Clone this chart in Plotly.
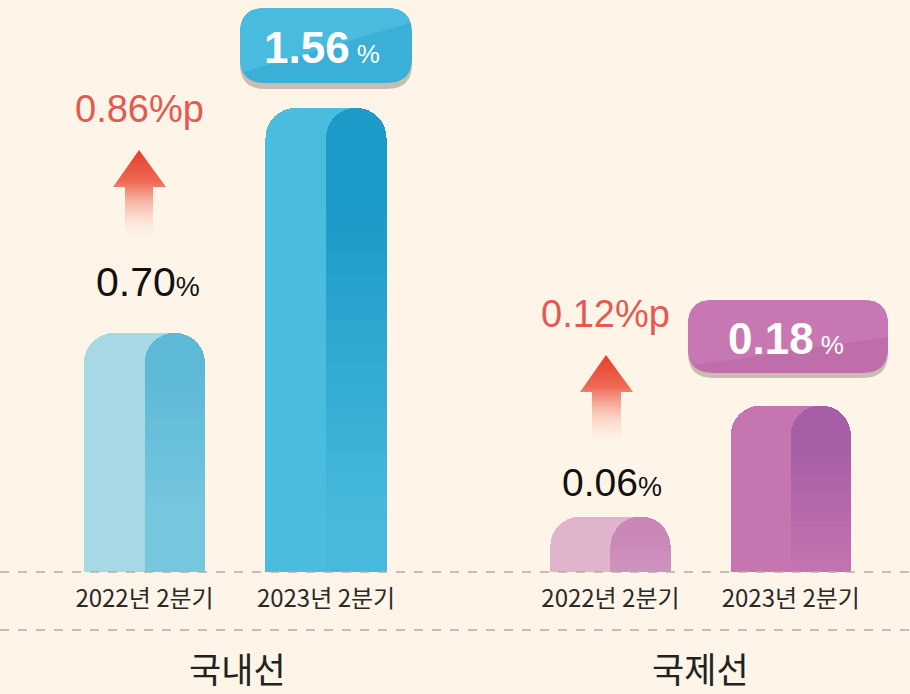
import plotly.graph_objects as go

# ---------------- data ----------------
categories = ["2022년 2분기", "2023년 2분기"]
domestic = [0.70, 1.56]          # 국내선 (%)
international = [0.06, 0.18]     # 국제선 (%)
change_labels = ["0.86%p", "0.12%p"]
group_names = ["국내선", "국제선"]

# ---------------- style ----------------
BG = "#FEF5E8"
W, H = 910, 694
DOM_PAD = 0.214        # visual pedestal under the domestic bars (infographic scale)
N_GRAD = 14            # gradient steps of the shaded half
GRAD_SPAN = 0.75       # share of the bar covered by the gradient

dom_colors = [
    dict(light="#A6D9E4", top="#5EB9D7", bot="#76C7DE"),
    dict(light="#4ABCDD", top="#1C9AC8", bot="#47B9DC"),
]
int_colors = [
    dict(light="#E0B4CC", top="#C987B8", bot="#CF92BE"),
    dict(light="#C575AF", top="#A65EA7", bot="#C474AE"),
]


def hex2rgb(h):
    h = h.lstrip("#")
    return tuple(int(h[i:i + 2], 16) for i in (0, 2, 4))


def mix(c1, c2, t):
    a, b = hex2rgb(c1), hex2rgb(c2)
    return "rgb(%d,%d,%d)" % tuple(round(a[i] + (b[i] - a[i]) * t) for i in range(3))


fig = go.Figure()
BAR_W, HALF_W = 0.667, 0.3335


def add_group(vals, pad, colors, xa_light, ya_light, xa_dark, ya_dark):
    light = [c["light"] for c in colors]
    if pad > 0:
        fig.add_trace(go.Bar(x=categories, y=[pad] * len(vals), width=[BAR_W] * 2, offset=[-BAR_W / 2] * 2,
                             marker=dict(color=light, line=dict(width=0)),
                             xaxis=xa_light, yaxis=ya_light, hoverinfo="skip", showlegend=False))
    fig.add_trace(go.Bar(x=categories, y=vals, width=[BAR_W] * 2, offset=[-BAR_W / 2] * 2,
                         marker=dict(color=light, cornerradius=30, line=dict(width=0)),
                         xaxis=xa_light, yaxis=ya_light, hoverinfo="skip", showlegend=False))
    pieces = []
    if pad > 0:
        pieces.append(([pad] * len(vals), [c["bot"] for c in colors]))
    for j in range(N_GRAD):
        t = (j + 0.5) / N_GRAD
        pieces.append(([v * GRAD_SPAN / N_GRAD for v in vals],
                       [mix(c["bot"], c["top"], t) for c in colors]))
    pieces.append(([v * (1 - GRAD_SPAN) for v in vals], [c["top"] for c in colors]))
    for ys, cols in pieces:
        fig.add_trace(go.Bar(x=categories, y=ys, width=[HALF_W] * 2, offset=[0.0] * 2,
                             marker=dict(color=cols, cornerradius=30, line=dict(width=0)),
                             xaxis=xa_dark, yaxis=ya_dark, hoverinfo="skip", showlegend=False))


add_group(domestic, DOM_PAD, dom_colors, "x", "y", "x4", "y4")
add_group(international, 0.0, int_colors, "x2", "y2", "x5", "y5")

# ---------------- decorative arrows (pixel overlay axes) ----------------
arrow_grad = dict(type="vertical",
                  colorscale=[[0, "rgba(254,238,228,0.15)"], [0.58, "#F07E6B"], [0.64, "#EE6A55"],
                              [1, "#E53F2A"]])
arrows = [
    dict(tip=(139, 150), hb=187, hx=(113, 166), sx=(125, 153), bot=238),
    dict(tip=(606, 355), hb=392, hx=(580, 633), sx=(592, 621), bot=443),
]
for a in arrows:
    tx, ty = a["tip"]
    xs = [tx, a["hx"][1], a["sx"][1], a["sx"][1], a["sx"][0], a["sx"][0], a["hx"][0], tx]
    ys = [ty, a["hb"], a["hb"], a["bot"], a["bot"], a["hb"], a["hb"], ty]
    fig.add_trace(go.Scatter(x=xs, y=ys, mode="lines", line=dict(width=0, color="rgba(0,0,0,0)"),
                             fill="toself", fillgradient=arrow_grad,
                             xaxis="x3", yaxis="y3", hoverinfo="skip", showlegend=False))


# ---------------- shapes ----------------
def rrect(x0, y0, x1, y1, r):
    return (f"M{x0 + r},{y0} L{x1 - r},{y0} Q{x1},{y0} {x1},{y0 + r} L{x1},{y1 - r} "
            f"Q{x1},{y1} {x1 - r},{y1} L{x0 + r},{y1} Q{x0},{y1} {x0},{y1 - r} "
            f"L{x0},{y0 + r} Q{x0},{y0} {x0 + r},{y0} Z")


shapes = []
shapes.append(dict(type="path", path=rrect(240, 14, 412, 89, 25), xref="x3", yref="y3",
                   fillcolor="#C9BDB2", line=dict(width=0), layer="below"))
shapes.append(dict(type="path", path=rrect(240, 8, 412, 83, 25), xref="x3", yref="y3",
                   fillcolor="#3AAFD7", line=dict(width=0), layer="below"))
shapes.append(dict(type="path",
                   path="M244,72 Q240,66 240,58 L240,33 Q240,8 265,8 L387,8 Q405,8 410,23 Z",
                   xref="x3", yref="y3", fillcolor="#48BBDE", line=dict(width=0), layer="below"))

shapes.append(dict(type="path", path=rrect(688, 305, 888, 378, 25), xref="x3", yref="y3",
                   fillcolor="#C9BDB2", line=dict(width=0), layer="below"))
shapes.append(dict(type="path", path=rrect(688, 300, 888, 373, 25), xref="x3", yref="y3",
                   fillcolor="#C06DAB", line=dict(width=0), layer="below"))
shapes.append(dict(type="path",
                   path="M695,365 Q688,358 688,348 L688,325 Q688,300 713,300 L863,300 Q888,300 888,325 L888,337 Z",
                   xref="x3", yref="y3", fillcolor="#C778B2", line=dict(width=0), layer="below"))

for yy in (572, 630):
    shapes.append(dict(type="line", x0=0, x1=W, y0=yy, y1=yy, xref="x3", yref="y3",
                       line=dict(color="#B3ADA8", width=1.5, dash="dash"), layer="above"))

# ---------------- annotations ----------------
NUM_FONT = "Liberation Sans, Arial, sans-serif"
KR_FONT = "Noto Sans CJK KR, sans-serif"
ann = []


def add_text(x, y, text, size, color, family):
    ann.append(dict(x=x, y=y, xref="x3", yref="y3", text=text, showarrow=False,
                    font=dict(size=size, color=color, family=family),
                    xanchor="center", yanchor="middle", borderpad=0))


add_text(148, 282, f"{domestic[0]:.2f}<span style='font-size:27px'>%</span>", 41, "#111111", NUM_FONT)
add_text(612, 482, f"{international[0]:.2f}<span style='font-size:27px'>%</span>", 39, "#111111", NUM_FONT)

add_text(322, 47, f"<b>{domestic[1]:.2f}</b><span style='font-size:26px'> %</span>", 44, "#FFFFFF", NUM_FONT)
add_text(786, 338, f"<b>{international[1]:.2f}</b><span style='font-size:26px'> %</span>", 44, "#FFFFFF", NUM_FONT)

add_text(139, 109, change_labels[0], 38, "#E25A52", NUM_FONT)
add_text(605, 314, change_labels[1], 38, "#E25A52", NUM_FONT)

add_text(237, 667, group_names[0], 35, "#222222", KR_FONT)
add_text(700, 667, group_names[1], 35, "#222222", KR_FONT)

# ---------------- layout ----------------
base_y = (H - 572) / H
tickfont = dict(size=24, color="#2A2A2A", family=KR_FONT)
xcommon = dict(type="category", categoryorder="array", categoryarray=categories,
               range=[-0.5, 1.5], showgrid=False, zeroline=False, showline=False,
               fixedrange=True)
dom_range = [0, 572 / 261.6]
int_range = [0, 572 / 925.0]

fig.update_layout(
    width=W, height=H, margin=dict(l=0, r=0, t=0, b=0),
    paper_bgcolor=BG, plot_bgcolor="rgba(0,0,0,0)",
    barmode="stack", showlegend=False, hovermode=False,
    xaxis=dict(domain=[53.75 / W, 416.75 / W], anchor="y", ticks="", tickfont=tickfont,
               ticklabelstandoff=10, **xcommon),
    xaxis2=dict(domain=[520.25 / W, 881.0 / W], anchor="y2", ticks="", tickfont=tickfont,
                ticklabelstandoff=10, **xcommon),
    xaxis4=dict(domain=[53.75 / W, 416.75 / W], anchor="y4", overlaying="x", visible=False, **xcommon),
    xaxis5=dict(domain=[520.25 / W, 881.0 / W], anchor="y5", overlaying="x2", visible=False, **xcommon),
    yaxis=dict(domain=[base_y, 1], range=dom_range, visible=False, anchor="x", fixedrange=True),
    yaxis2=dict(domain=[base_y, 1], range=int_range, visible=False, anchor="x2", fixedrange=True),
    yaxis4=dict(domain=[base_y, 1], range=dom_range, visible=False, anchor="x4", overlaying="y",
                fixedrange=True),
    yaxis5=dict(domain=[base_y, 1], range=int_range, visible=False, anchor="x5", overlaying="y2",
                fixedrange=True),
    xaxis3=dict(domain=[0, 1], range=[0, W], visible=False, anchor="y3", fixedrange=True),
    yaxis3=dict(domain=[0, 1], range=[H, 0], visible=False, anchor="x3", fixedrange=True),
    shapes=shapes, annotations=ann,
)

fig.write_html("out.html", config={"displayModeBar": False},
               post_script="document.body.style.margin='0';")
